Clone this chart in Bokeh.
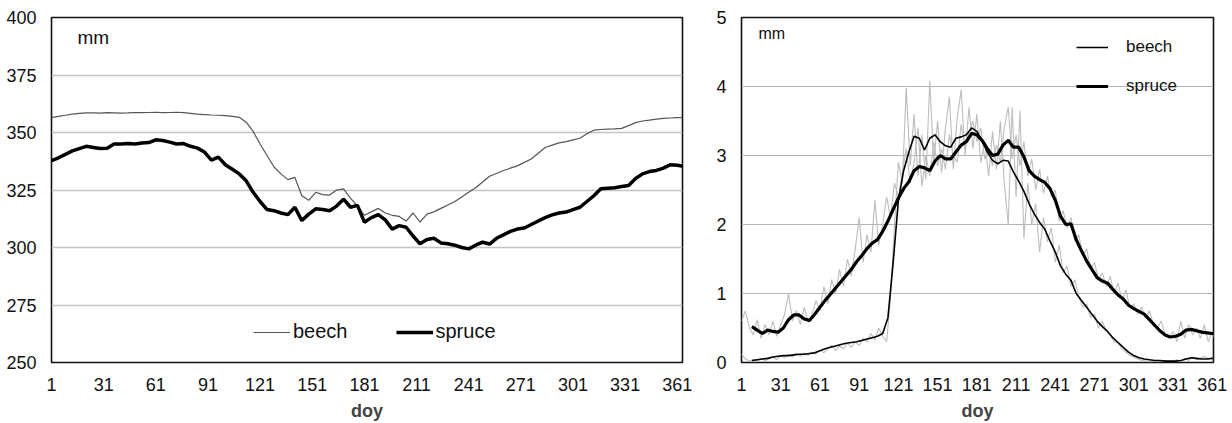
from bokeh.plotting import figure
from bokeh.layouts import row
from bokeh.models import FixedTicker, Legend, LegendItem, Label, Range1d
from bokeh.embed import file_html
from bokeh.resources import INLINE

# ---------------- data ----------------
x_ticks = [1, 31, 61, 91, 121, 151, 181, 211, 241, 271, 301, 331, 361]
left_y_ticks = [250, 275, 300, 325, 350, 375, 400]
right_y_ticks = [0, 1, 2, 3, 4, 5]

# left panel: soil water storage (mm), every 4th day
days_left = list(range(1, 366, 4))
beech_storage = [
    356.5, 357.0, 357.5, 358.0, 358.3, 358.5, 358.5, 358.4, 358.6, 358.5,
    358.4, 358.5, 358.7, 358.6, 358.7, 358.8, 358.6, 358.7, 358.8, 358.6,
    358.3, 358.0, 357.8, 357.6, 357.5, 357.3, 357.0, 356.6, 354.5, 350.5,
    345.0, 340.0, 335.0, 332.0, 329.5, 330.5, 322.5, 320.5, 324.0, 323.0,
    322.8, 325.0, 325.5, 321.5, 318.0, 314.0, 315.5, 317.0, 315.0, 314.0,
    313.5, 311.5, 315.0, 311.0, 314.5, 315.5, 317.0, 318.5, 320.0, 322.0,
    324.0, 326.0, 328.5, 331.0, 332.2, 333.5, 334.5, 335.5, 337.0, 338.5,
    341.0, 343.5, 344.5, 345.5, 346.0, 346.8, 347.5, 349.5, 351.0, 351.3,
    351.5, 351.6, 351.8, 353.0, 354.3, 355.0, 355.4, 355.8, 356.1, 356.3,
    356.5, 356.4]
spruce_storage = [
    337.8, 339.0, 340.5, 342.0, 343.0, 344.0, 343.5, 343.0, 343.2, 345.0,
    345.0, 345.2, 345.0, 345.4, 345.6, 346.8, 346.5, 345.8, 345.0, 345.2,
    344.0, 343.2, 341.5, 338.0, 339.3, 336.0, 334.0, 332.0, 329.0, 324.0,
    320.0, 316.5, 316.0, 315.0, 314.3, 317.5, 311.7, 314.5, 316.8, 316.5,
    316.0, 318.0, 321.0, 317.5, 318.3, 311.0, 313.0, 314.3, 312.0, 308.0,
    309.5, 308.8, 305.0, 301.6, 303.5, 304.0, 302.0, 301.6, 301.0, 300.0,
    299.4, 301.0, 302.3, 301.5, 304.0, 305.5, 307.0, 308.0, 308.5, 310.0,
    311.5, 313.0, 314.2, 315.0, 315.4, 316.5, 317.5, 320.0, 322.5, 325.5,
    325.8, 326.0, 326.5, 327.0, 330.0, 332.0, 333.0, 333.5, 334.5, 336.0,
    335.8, 335.2]

# right panel: smoothed transpiration (mm/day), every 4th day
days_smooth = list(range(9, 366, 4))
beech_smooth = [
    0.03, 0.04, 0.05, 0.06, 0.08, 0.09, 0.10, 0.10, 0.11, 0.12,
    0.12, 0.13, 0.14, 0.17, 0.20, 0.22, 0.24, 0.26, 0.28, 0.29,
    0.30, 0.32, 0.34, 0.36, 0.38, 0.42, 0.65, 1.45, 2.35, 2.78,
    3.05, 3.28, 3.25, 3.08, 3.25, 3.30, 3.20, 3.14, 3.12, 3.25,
    3.27, 3.30, 3.40, 3.35, 3.22, 3.05, 2.93, 2.88, 2.93, 2.92,
    2.76, 2.63, 2.48, 2.30, 2.15, 2.03, 1.93, 1.76, 1.60, 1.40,
    1.28, 1.19, 1.00, 0.90, 0.80, 0.70, 0.60, 0.52, 0.45, 0.36,
    0.29, 0.22, 0.15, 0.10, 0.07, 0.05, 0.04, 0.03, 0.03, 0.02,
    0.02, 0.02, 0.03, 0.05, 0.07, 0.06, 0.05, 0.05, 0.06, 0.06]
spruce_smooth = [
    0.52, 0.47, 0.42, 0.47, 0.45, 0.44, 0.50, 0.62, 0.69, 0.69,
    0.63, 0.61, 0.70, 0.80, 0.90, 0.99, 1.08, 1.17, 1.26, 1.35,
    1.46, 1.55, 1.65, 1.73, 1.78, 1.90, 2.05, 2.22, 2.38, 2.52,
    2.62, 2.78, 2.84, 2.82, 2.78, 2.92, 3.00, 2.95, 2.95, 3.05,
    3.15, 3.20, 3.32, 3.30, 3.22, 3.10, 3.00, 3.02, 3.15, 3.22,
    3.12, 3.12, 2.98, 2.78, 2.70, 2.65, 2.61, 2.52, 2.35, 2.12,
    2.00, 2.01, 1.78, 1.62, 1.47, 1.35, 1.23, 1.18, 1.15, 1.06,
    0.98, 0.92, 0.83, 0.78, 0.74, 0.70, 0.62, 0.54, 0.46, 0.40,
    0.37, 0.38, 0.41, 0.47, 0.48, 0.46, 0.44, 0.43, 0.42, 0.41]

# right panel: raw daily transpiration (grey), every 3rd day
days_daily = list(range(1, 366, 3))
beech_daily = [
    0.12, 0.05, 0.02, 0.04, 0.02, 0.06, 0.03, 0.05, 0.08, 0.04,
    0.10, 0.07, 0.12, 0.08, 0.13, 0.09, 0.14, 0.10, 0.15, 0.12,
    0.18, 0.14, 0.20, 0.25, 0.17, 0.24, 0.20, 0.28, 0.22, 0.30,
    0.25, 0.35, 0.30, 0.42, 0.33, 0.50, 0.38, 0.30, 0.95, 2.00,
    2.90, 2.60, 3.98, 2.85, 3.60, 2.70, 3.30, 2.65, 4.08, 2.90,
    3.50, 2.75, 3.40, 3.85, 2.80, 3.55, 3.95, 3.00, 3.70, 3.10,
    3.60, 2.90, 3.20, 2.70, 3.35, 2.80, 3.50, 2.60, 2.00, 3.70,
    2.40, 3.65, 1.80, 2.60, 2.00, 2.30, 1.60, 2.10, 1.75, 1.95,
    1.45, 1.70, 1.30, 1.40, 1.10, 1.20, 0.95, 0.80, 0.85, 0.65,
    0.70, 0.50, 0.60, 0.45, 0.40, 0.30, 0.28, 0.20, 0.15, 0.10,
    0.08, 0.05, 0.03, 0.02, 0.01, 0.02, 0.01, 0.02, 0.03, 0.02,
    0.02, 0.04, 0.02, 0.06, 0.03, 0.08, 0.04, 0.06, 0.09, 0.05,
    0.07, 0.04]
spruce_daily = [
    0.60, 0.75, 0.50, 0.40, 0.62, 0.35, 0.55, 0.40, 0.60, 0.38,
    0.55, 0.70, 1.00, 0.60, 0.75, 0.55, 0.80, 0.58, 0.70, 0.90,
    0.75, 1.10, 0.85, 1.20, 1.00, 1.35, 1.10, 1.50, 1.25, 1.65,
    2.10, 1.45, 1.85, 1.60, 2.35, 1.70, 2.00, 2.40, 2.10, 2.60,
    2.40, 2.75, 3.10, 2.60, 2.90, 3.40, 2.55, 3.00, 2.70, 3.20,
    2.85, 3.10, 2.80, 3.30, 3.00, 2.90, 3.45, 3.10, 3.35, 3.50,
    3.20, 3.40, 2.95, 3.10, 2.85, 3.15, 2.90, 3.40, 3.70, 2.95,
    3.30, 2.85, 3.20, 2.70, 2.95, 2.50, 2.80, 2.45, 2.70, 2.40,
    2.50, 2.05, 2.20, 1.95, 2.10, 1.75, 1.85, 1.55, 1.65, 1.35,
    1.45, 1.20, 1.30, 1.10, 1.25, 1.00, 1.15, 0.90, 1.05, 0.80,
    0.85, 0.70, 0.80, 0.65, 0.75, 0.55, 0.50, 0.60, 0.40, 0.35,
    0.45, 0.30, 0.60, 0.35, 0.55, 0.40, 0.50, 0.35, 0.55, 0.30,
    0.45, 0.28]

FONT = "Liberation Sans"


def style(p, yticks, ysize):
    p.xaxis.ticker = FixedTicker(ticks=x_ticks)
    p.yaxis.ticker = FixedTicker(ticks=yticks)
    for ax in (p.xaxis[0], p.yaxis[0]):
        ax.major_tick_line_color = None
        ax.minor_tick_line_color = None
        ax.axis_line_color = None
        ax.major_label_text_font = FONT
        ax.major_label_text_color = "#111111"
    p.xaxis.major_label_text_font_size = "18px"
    p.yaxis.major_label_text_font_size = ysize
    p.xaxis.major_label_standoff = 9
    p.yaxis.major_label_standoff = 9
    p.xaxis.axis_label = "doy"
    p.xaxis.axis_label_text_font = FONT
    p.xaxis.axis_label_text_font_style = "bold"
    p.xaxis.axis_label_text_font_size = "18px"
    p.xaxis.axis_label_standoff = 7
    p.xgrid.grid_line_color = None
    p.outline_line_color = "#111111"
    p.outline_line_width = 1.6
    p.outline_line_alpha = 1.0
    p.background_fill_color = "white"
    p.border_fill_color = "white"


# ---------------- left panel ----------------
pl = figure(width=700, height=423, output_backend="svg", toolbar_location=None,
            x_range=Range1d(1, 364), y_range=Range1d(250, 400),
            min_border_left=51, min_border_right=18,
            min_border_top=17, min_border_bottom=61)
style(pl, left_y_ticks, "18px")
pl.ygrid.grid_line_color = "#c4c4c4"
pl.ygrid.grid_line_width = 1.5

rb = pl.line(days_left, beech_storage, line_color="#555555", line_width=1.2)
rs = pl.line(days_left, spruce_storage, line_color="black", line_width=3.5)

leg_l = Legend(items=[LegendItem(label="beech", renderers=[rb]),
                      LegendItem(label="spruce", renderers=[rs])],
               orientation="horizontal", location=(202, 19),
               glyph_width=37, glyph_height=20, label_standoff=3, spacing=48,
               padding=0, margin=0, background_fill_alpha=0,
               border_line_color=None, label_text_font=FONT,
               label_text_font_size="20px", label_text_color="#111111")
pl.add_layout(leg_l)
pl.add_layout(Label(x=26, y=325, x_units="screen", y_units="screen", text="mm",
                    text_font=FONT, text_font_size="19px", text_color="#111111",
                    text_baseline="middle"))

# ---------------- right panel ----------------
pr = figure(width=532, height=423, output_backend="svg", toolbar_location=None,
            x_range=Range1d(1, 362), y_range=Range1d(0, 5),
            min_border_left=41, min_border_right=19,
            min_border_top=17, min_border_bottom=61)
style(pr, right_y_ticks, "18px")
pr.ygrid.grid_line_color = "#b4b4b4"
pr.ygrid.grid_line_width = 1.2

pr.line(days_daily, beech_daily, line_color="#bdbdbd", line_width=1.1)
pr.line(days_daily, spruce_daily, line_color="#bdbdbd", line_width=1.1)
r2b = pr.line(days_smooth, beech_smooth, line_color="black", line_width=1.6)
r2s = pr.line(days_smooth, spruce_smooth, line_color="black", line_width=3.2)

leg_r = Legend(items=[LegendItem(label="beech", renderers=[r2b]),
                      LegendItem(label="spruce", renderers=[r2s])],
               orientation="vertical", location=(335, 266),
               glyph_width=32, glyph_height=20, label_standoff=18, spacing=19,
               padding=0, margin=0, background_fill_alpha=0,
               border_line_color=None, label_text_font=FONT,
               label_text_font_size="17px", label_text_color="#111111")
pr.add_layout(leg_r)
pr.add_layout(Label(x=17, y=329, x_units="screen", y_units="screen", text="mm",
                    text_font=FONT, text_font_size="16px", text_color="#111111",
                    text_baseline="middle"))

layout = row(pl, pr, spacing=0)
open("out.html", "w").write(file_html(layout, INLINE))
